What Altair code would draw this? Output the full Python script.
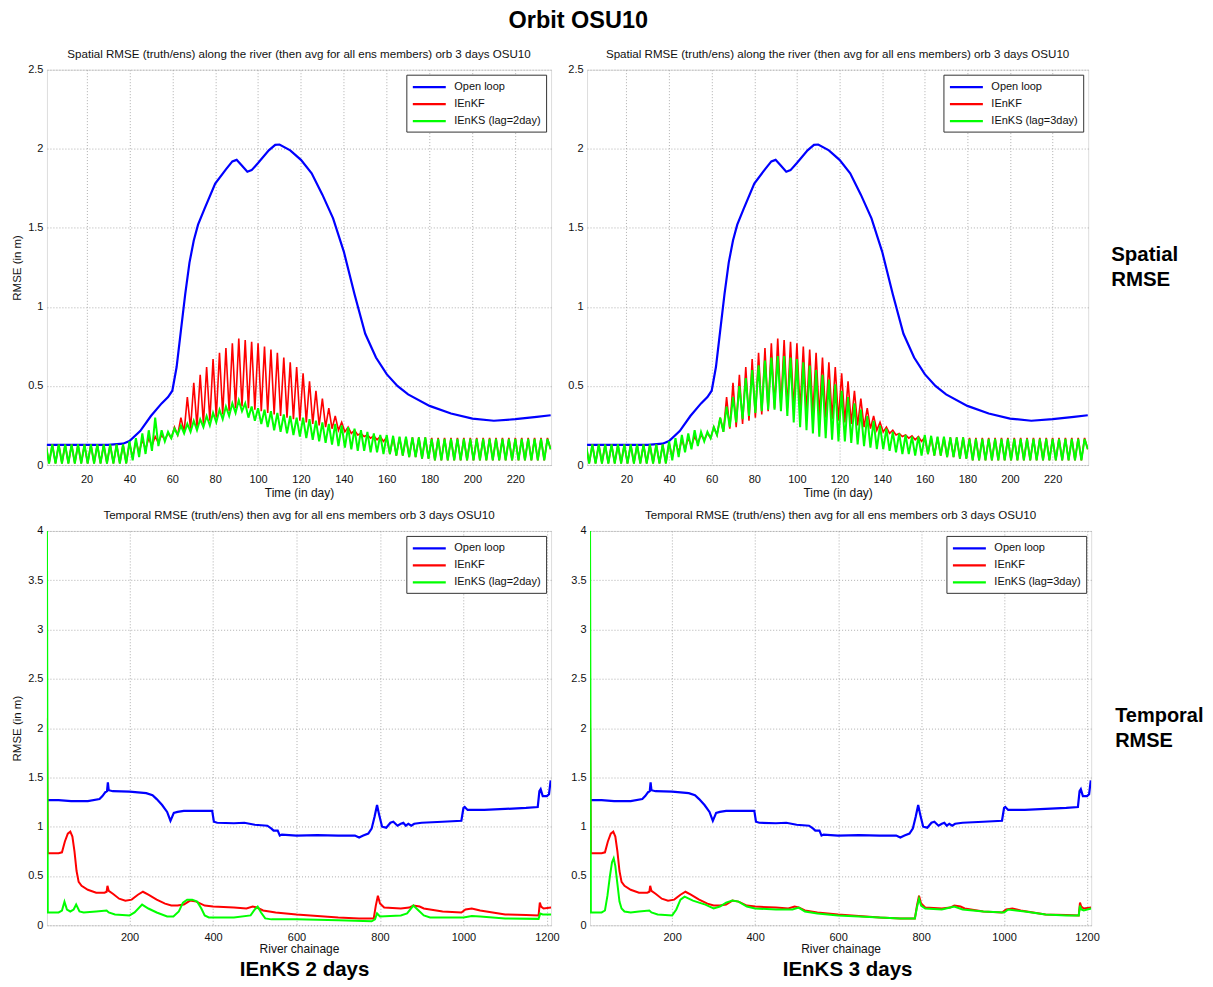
import altair as alt
import pandas as pd

# ---------------- data ----------------
SERIES_OL = "Open loop"
SERIES_KF = "IEnKF"
SERIES_KS2 = "IEnKS (lag=2day)"
SERIES_KS3 = "IEnKS (lag=3day)"

# observation cycle (every 3 days) for the spatial RMSE sawtooth
cycle_day = list(range(1, 236, 3))  # 79 cycles

# Open loop, spatial RMSE vs time (day)
ol_day = [1, 10, 20, 30, 37, 40, 45, 50, 55, 58, 60, 62, 64, 66, 68, 70, 72, 75, 80,
          85, 88, 90, 92, 95, 97, 100, 105, 108, 110, 115, 120, 125, 130, 135, 140,
          145, 150, 155, 160, 165, 170, 180, 190, 200, 210, 220, 230, 236.5]
ol_val = [0.128, 0.128, 0.127, 0.128, 0.135, 0.152, 0.215, 0.31, 0.39, 0.43, 0.47,
          0.62, 0.85, 1.08, 1.28, 1.42, 1.52, 1.62, 1.78, 1.87, 1.92, 1.93, 1.9,
          1.855, 1.865, 1.91, 1.99, 2.025, 2.027, 1.99, 1.93, 1.845, 1.71, 1.56, 1.35,
          1.08, 0.83, 0.68, 0.575, 0.5, 0.447, 0.374, 0.326, 0.294, 0.28, 0.29, 0.305,
          0.315]

# IEnKF sawtooth (peak / trough of each cycle)
kf_peak = ([0.13] * 13 +
           [0.14, 0.15, 0.16, 0.17, 0.18, 0.19, 0.2] +
           [0.24, 0.3, 0.43, 0.52, 0.57, 0.62, 0.67, 0.71, 0.74, 0.77] +
           [0.8, 0.79, 0.78, 0.77, 0.75, 0.73, 0.71, 0.68, 0.65, 0.62] +
           [0.58, 0.53, 0.47, 0.42, 0.36, 0.31, 0.27, 0.24, 0.22, 0.2, 0.19, 0.185, 0.18] +
           [0.175] * 7 + [0.172] * 19)
kf_trough = ([0.01] * 13 +
             [0.05, 0.08, 0.1, 0.12, 0.14, 0.16, 0.17] +
             [0.19, 0.21, 0.23, 0.24, 0.26, 0.28, 0.3, 0.32, 0.34, 0.36] +
             [0.37, 0.36, 0.35, 0.34, 0.33, 0.32, 0.31, 0.3, 0.29, 0.28] +
             [0.27, 0.26, 0.25, 0.24, 0.23, 0.22, 0.21, 0.2, 0.19, 0.18, 0.17, 0.16, 0.15] +
             [0.07, 0.06, 0.06, 0.05, 0.05, 0.04, 0.04] + [0.03] * 18 + [0.1])

# IEnKS lag = 2 days
ks2_peak = ([0.13] * 13 +
            [0.15, 0.17, 0.2, 0.22, 0.3, 0.22, 0.21] +
            [0.23, 0.25, 0.26, 0.28, 0.29, 0.31, 0.33, 0.35, 0.37, 0.39] +
            [0.41, 0.39, 0.37, 0.36, 0.35, 0.34, 0.33, 0.32, 0.31, 0.3] +
            [0.3, 0.29, 0.28, 0.27, 0.26, 0.26, 0.25, 0.24, 0.23, 0.22, 0.21, 0.2, 0.19] +
            [0.19, 0.185, 0.18, 0.18, 0.175, 0.175, 0.175] + [0.165] * 19)
ks2_trough = ([0.01] * 13 +
              [0.03, 0.05, 0.07, 0.09, 0.12, 0.15, 0.17] +
              [0.19, 0.2, 0.21, 0.22, 0.24, 0.25, 0.27, 0.29, 0.31, 0.33] +
              [0.34, 0.3, 0.28, 0.26, 0.24, 0.22, 0.21, 0.2, 0.19, 0.18] +
              [0.17, 0.16, 0.15, 0.14, 0.13, 0.12, 0.11, 0.1, 0.09, 0.09, 0.08, 0.08, 0.07] +
              [0.07, 0.06, 0.06, 0.05, 0.05, 0.04, 0.04] + [0.03] * 18 + [0.1])

# IEnKS lag = 3 days
ks3_peak = ([0.13] * 13 +
            [0.15, 0.17, 0.19, 0.2, 0.22, 0.21, 0.21] +
            [0.24, 0.3, 0.37, 0.43, 0.5, 0.55, 0.6, 0.63, 0.66, 0.68] +
            [0.69, 0.69, 0.68, 0.67, 0.65, 0.63, 0.6, 0.57, 0.54, 0.51] +
            [0.47, 0.43, 0.39, 0.35, 0.31, 0.28, 0.25, 0.23, 0.21, 0.2, 0.19, 0.18, 0.18] +
            [0.19, 0.185, 0.18, 0.18, 0.175, 0.175, 0.175] + [0.165] * 19)
ks3_trough = ([0.01] * 13 +
              [0.03, 0.05, 0.08, 0.1, 0.12, 0.15, 0.17] +
              [0.19, 0.21, 0.24, 0.27, 0.29, 0.31, 0.33, 0.34, 0.35, 0.35] +
              [0.34, 0.31, 0.27, 0.24, 0.22, 0.2, 0.18, 0.17, 0.16, 0.15] +
              [0.15, 0.14, 0.13, 0.12, 0.11, 0.1, 0.1, 0.09, 0.08, 0.07, 0.07, 0.06, 0.06] +
              [0.07, 0.06, 0.06, 0.05, 0.05, 0.04, 0.04] + [0.03] * 18 + [0.1])

# Temporal RMSE vs river chainage
bol_c = [2, 30, 60, 100, 128, 135, 142, 146, 148, 150, 160, 200, 240, 255, 265, 278,
         290, 298, 302, 306, 315, 330, 398, 402, 410, 450, 475, 500, 530, 540, 545,
         555, 560, 565, 600, 650, 700, 740, 750, 760, 772, 780, 787, 793, 798, 805,
         815, 825, 832, 842, 850, 856, 862, 868, 875, 882, 900, 950, 995, 1000, 1003,
         1010, 1050, 1100, 1150, 1178, 1182, 1185, 1190, 1200, 1205, 1209]
bol_v = [1.27, 1.27, 1.26, 1.26, 1.28, 1.31, 1.35, 1.36, 1.45, 1.37, 1.36, 1.355,
         1.34, 1.32, 1.28, 1.22, 1.15, 1.06, 1.10, 1.14, 1.15, 1.16, 1.16, 1.05, 1.04,
         1.035, 1.04, 1.02, 1.01, 0.98, 0.96, 0.96, 0.91, 0.92, 0.91, 0.915, 0.91,
         0.91, 0.89, 0.91, 0.93, 0.98, 1.1, 1.22, 1.12, 1.0, 0.99, 1.04, 1.05, 1.01,
         1.03, 1.04, 1.01, 1.03, 1.01, 1.03, 1.04, 1.05, 1.06, 1.19, 1.2, 1.17, 1.17,
         1.18, 1.19, 1.2, 1.36, 1.38, 1.31, 1.31, 1.33, 1.47]

bkf_c = [2, 4, 30, 38, 45, 52, 58, 63, 68, 73, 78, 85, 100, 120, 140, 145, 147, 150,
         160, 175, 190, 205, 220, 232, 245, 265, 285, 300, 315, 330, 345, 360, 380,
         400, 450, 480, 495, 505, 520, 550, 600, 650, 700, 750, 785, 790, 795, 800,
         810, 850, 870, 880, 895, 905, 950, 995, 1005, 1020, 1040, 1070, 1100, 1150,
         1180, 1183, 1186, 1192, 1210]
bkf_v = [2.1, 0.73, 0.73, 0.74, 0.85, 0.93, 0.95, 0.9, 0.75, 0.55, 0.44, 0.4, 0.36,
         0.33, 0.33, 0.34, 0.4, 0.35, 0.32, 0.27, 0.25, 0.26, 0.31, 0.34, 0.31, 0.26,
         0.22, 0.2, 0.2, 0.21, 0.25, 0.24, 0.2, 0.19, 0.18, 0.17, 0.19, 0.18, 0.15,
         0.13, 0.11, 0.095, 0.08, 0.07, 0.07, 0.2, 0.3, 0.22, 0.18, 0.17, 0.18, 0.2,
         0.19, 0.17, 0.14, 0.13, 0.16, 0.17, 0.15, 0.13, 0.11, 0.105, 0.1, 0.23, 0.19,
         0.17, 0.18]

bks2_c = [2, 4, 30, 38, 44, 50, 58, 66, 72, 80, 90, 120, 145, 150, 165, 200, 212, 230,
          245, 265, 290, 305, 318, 328, 338, 350, 362, 372, 380, 390, 450, 490, 500,
          507, 515, 525, 540, 600, 700, 780, 788, 793, 800, 850, 865, 880, 895, 905,
          920, 1000, 1020, 1040, 1100, 1180, 1184, 1190, 1210]
bks2_v = [4.1, 0.13, 0.13, 0.15, 0.24, 0.16, 0.14, 0.16, 0.21, 0.14, 0.13, 0.14, 0.15,
          0.13, 0.11, 0.1, 0.13, 0.21, 0.17, 0.13, 0.09, 0.09, 0.14, 0.23, 0.26, 0.26,
          0.24, 0.17, 0.1, 0.08, 0.08, 0.1, 0.16, 0.19, 0.13, 0.07, 0.06, 0.06, 0.05,
          0.04, 0.06, 0.12, 0.09, 0.1, 0.12, 0.2, 0.14, 0.1, 0.08, 0.08, 0.095, 0.09,
          0.07, 0.065, 0.12, 0.11, 0.11]

bks3_c = [2, 4, 30, 38, 44, 50, 55, 59, 63, 68, 73, 78, 85, 100, 120, 145, 150, 165,
          200, 210, 220, 230, 250, 280, 300, 315, 330, 345, 360, 380, 400, 450, 490,
          505, 520, 550, 600, 650, 700, 750, 785, 790, 795, 800, 810, 850, 880, 900,
          950, 1000, 1010, 1050, 1100, 1150, 1180, 1183, 1186, 1192, 1210]
bks3_v = [4.1, 0.13, 0.13, 0.15, 0.3, 0.5, 0.64, 0.68, 0.6, 0.42, 0.24, 0.17, 0.14,
          0.13, 0.14, 0.15, 0.13, 0.11, 0.1, 0.16, 0.26, 0.29, 0.25, 0.21, 0.17, 0.19,
          0.23, 0.25, 0.24, 0.19, 0.17, 0.16, 0.16, 0.18, 0.14, 0.12, 0.1, 0.09, 0.08,
          0.07, 0.07, 0.18, 0.27, 0.2, 0.17, 0.16, 0.19, 0.16, 0.14, 0.13, 0.16, 0.14,
          0.11, 0.1, 0.1, 0.2, 0.16, 0.15, 0.17]

time_ticks = [20, 40, 60, 80, 100, 120, 140, 160, 180, 200, 220]
chain_ticks = [200, 400, 600, 800, 1000, 1200]
spatial_yticks = [0, 0.5, 1, 1.5, 2, 2.5]
temporal_yticks = [0, 0.5, 1, 1.5, 2, 2.5, 3, 3.5, 4]

TITLE_SPATIAL = "Spatial RMSE (truth/ens) along the river (then avg for all ens members) orb 3 days OSU10"
TITLE_TEMPORAL = "Temporal RMSE (truth/ens) then avg for all ens members orb 3 days OSU10"

FONT = "Liberation Sans"
NARROW = "Liberation Sans Narrow, Liberation Sans"
BLUE, RED, GREEN = "#0000ff", "#ff0000", "#00ff00"


# ---------------- helpers ----------------
def sawtooth(name, peaks, troughs):
    xs, ys = [], []
    for d, p, t in zip(cycle_day, peaks, troughs):
        xs += [d, d + 1.5]
        ys += [p, t]
    return pd.DataFrame({"x": xs, "y": ys, "series": name})


def frame(name, xs, ys):
    return pd.DataFrame({"x": xs, "y": ys, "series": name})


def panel(dfs, widths, ks_name, xdomain, xticks, xfmt, xtitle, ydomain, yticks, title,
          ytitle, w, h, xlabel_pad=8, xtitle_pad=4, extra=None):
    names = [SERIES_OL, SERIES_KF, ks_name]
    color = alt.Color(
        "series:N",
        scale=alt.Scale(domain=names, range=[BLUE, RED, GREEN]),
        legend=alt.Legend(
            title=None, orient="top-right", offset=5, strokeColor="#333333",
            fillColor="white", padding=5, symbolType="M-1,0L4.5,0", symbolSize=144,
            symbolStrokeWidth=2.2, labelFontSize=11, labelFont=FONT, rowPadding=4,
            labelLimit=300, labelOffset=28, labelColor="#111"),
    )
    x = alt.X("x:Q", scale=alt.Scale(domain=xdomain, nice=False, zero=False),
              axis=alt.Axis(values=xticks, format=xfmt, title=xtitle, grid=True,
                            gridDash=[1, 2], gridColor="#9a9a9a", gridWidth=0.8,
                            ticks=False, domain=False, labelFontSize=11,
                            titleFontSize=12, titleFontWeight="normal",
                            labelPadding=xlabel_pad, titlePadding=xtitle_pad,
                            labelFont=FONT, titleFont=FONT, labelColor="#111",
                            titleColor="#111", labelFlush=False))
    yax = dict(values=yticks, format="~g", grid=True, gridDash=[1, 2],
               gridColor="#9a9a9a", gridWidth=0.8, ticks=False, domain=False,
               labelFontSize=11, titleFontSize=11.5, titleFontWeight="normal",
               labelPadding=4, labelFont=FONT, titleFont=FONT, labelColor="#111",
               titleColor="#111", titlePadding=5)
    yax["title"] = ytitle if ytitle else None
    y = alt.Y("y:Q", scale=alt.Scale(domain=ydomain, nice=False, zero=False),
              axis=alt.Axis(**yax))
    layers = []
    for df, sw in zip(dfs, widths):
        layers.append(alt.Chart(df).mark_line(strokeWidth=sw, clip=True).encode(
            x=x, y=y, color=color))
    if extra:
        layers += extra
    return alt.layer(*layers).properties(
        width=w, height=h,
        title=alt.TitleParams(TITLE_SPATIAL if title == "s" else TITLE_TEMPORAL,
                              fontSize=11.6, fontWeight="normal", font=FONT,
                              offset=3, color="#111"))


def label(lines, xpos, ypos, size, align="left"):
    return alt.Chart(pd.DataFrame({"d": [0]})).mark_text(
        text=lines, align=align, baseline="middle", fontSize=size, fontWeight="bold",
        font=NARROW if align == "center" else FONT, lineHeight=25, color="black"
    ).encode(x=alt.value(xpos), y=alt.value(ypos))


W_L, W_R, H_T, H_B = 505, 502, 396, 395

top_ol = frame(SERIES_OL, ol_day, ol_val)
top_kf = sawtooth(SERIES_KF, kf_peak, kf_trough)
top_ks2 = sawtooth(SERIES_KS2, ks2_peak, ks2_trough)
top_ks3 = sawtooth(SERIES_KS3, ks3_peak, ks3_trough)
bot_ol = frame(SERIES_OL, bol_c, bol_v)
bot_kf = frame(SERIES_KF, bkf_c, bkf_v)
bot_ks2 = frame(SERIES_KS2, bks2_c, bks2_v)
bot_ks3 = frame(SERIES_KS3, bks3_c, bks3_v)

tl = panel([top_ol, top_kf, top_ks2], [2.2, 1.6, 2.0], SERIES_KS2, [1.5, 236.7],
           time_ticks, "d", "Time (in day)", [0, 2.5], spatial_yticks, "s",
           "RMSE (in m)", W_L, H_T)
tr = panel([top_ol, top_kf, top_ks3], [2.2, 1.6, 2.0], SERIES_KS3, [1.5, 236.7],
           time_ticks, "d", "Time (in day)", [0, 2.5], spatial_yticks, "s", None,
           W_R, H_T, extra=[label(["Spatial", "RMSE"], W_R + 23, 186, 20.5)])
bl = panel([bot_ol, bot_kf, bot_ks2], [2.2, 2.0, 2.0], SERIES_KS2, [2, 1210],
           chain_ticks, "d", "River chainage", [0, 4], temporal_yticks, "t",
           "RMSE (in m)", W_L, H_B, xlabel_pad=6, xtitle_pad=1,
           extra=[label("IEnKS 2 days", 258, H_B + 45, 20.5, "center")])
br = panel([bot_ol, bot_kf, bot_ks3], [2.2, 2.0, 2.0], SERIES_KS3, [2, 1210],
           chain_ticks, "d", "River chainage", [0, 4], temporal_yticks, "t", None,
           W_R, H_B, xlabel_pad=6, xtitle_pad=1,
           extra=[label(["Temporal", "RMSE"], W_R + 24, 185, 20),
                  label("IEnKS 3 days", 258, H_B + 45, 20.5, "center")])

top = alt.hconcat(tl, tr, spacing=15).resolve_scale(color="independent").resolve_legend(color="independent")
bottom = alt.hconcat(bl, br, spacing=10).resolve_scale(color="independent").resolve_legend(color="independent")

chart = alt.vconcat(top, bottom, spacing=9).properties(
    title=alt.TitleParams("Orbit OSU10", fontSize=23.5, fontWeight="bold", font=NARROW,
                          anchor="start", align="center", dx=568, offset=16,
                          color="black"),
    padding={"left": 3, "top": 0, "right": 0, "bottom": 0},
).resolve_scale(color="independent").resolve_legend(color="independent").configure_view(
    stroke="black", strokeWidth=1
).configure(background="white")

chart.save("out.html", embed_options={"renderer": "svg", "actions": False})
